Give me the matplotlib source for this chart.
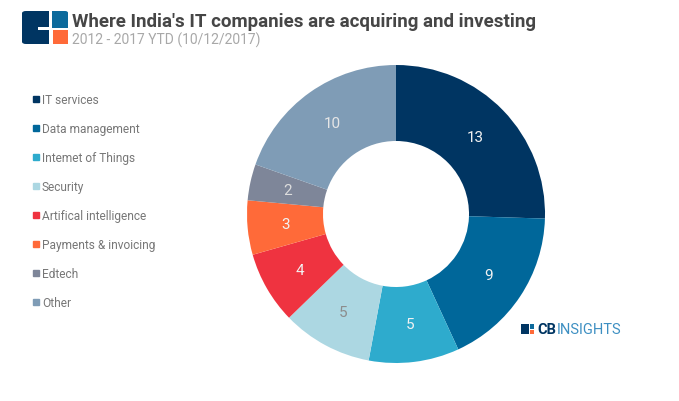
import matplotlib.pyplot as plt
from matplotlib.patches import FancyBboxPatch, Rectangle
import numpy as np

plt.rcParams['font.family'] = ['Roboto', 'DejaVu Sans']

# 数据
categories = ['IT services', 'Data management', 'Internet of Things', 'Security',
              'Artifical intelligence', 'Payments & invoicing', 'Edtech', 'Other']
legend_labels = ['IT services', 'Data management', 'Intemet of Things', 'Security',
                 'Artifical intelligence', 'Payments & invoicing', 'Edtech', 'Other']
values = [13, 9, 5, 5, 4, 3, 2, 10]
colors = ['#003562', '#00679a', '#2eabcd', '#acd7e2', '#ef3340', '#ff6a39', '#7e8699', '#7f9cb6']
label_colors = ['#f2f2f2', '#f2f2f2', '#f2f2f2', '#8c8c8c', '#f2f2f2', '#f2f2f2', '#dddddd', '#e6e6e6']

title = "Where India's IT companies are acquiring and investing"
subtitle = "2012 - 2017 YTD (10/12/2017)"

W, H = 679, 402
fig = plt.figure(figsize=(W / 100, H / 100), dpi=100)
fig.patch.set_facecolor('white')

# 环形图
cx, cy, r = 396, 215, 149
ax = fig.add_axes([(cx - r) / W, (H - cy - r) / H, 2 * r / W, 2 * r / H])
wedges, _ = ax.pie(values, colors=colors, startangle=90, counterclock=False,
                   radius=1, wedgeprops=dict(width=0.51, linewidth=0))
ax.set_xlim(-1, 1)
ax.set_ylim(-1, 1)
ax.set_aspect('equal')
ax.axis('off')

total = sum(values)
start = 90
for v, c in zip(values, label_colors):
    ang = np.deg2rad(start - v / total * 360 / 2)
    ax.text(0.745 * np.cos(ang), 0.745 * np.sin(ang), str(v), ha='center', va='center',
            color=c, fontsize=11, fontweight='normal')
    start -= v / total * 360

# 图例
for i, (lab, col) in enumerate(zip(legend_labels, colors)):
    y = 100 + i * 29
    fig.patches.append(Rectangle((33 / W, 1 - (y + 3) / H), 6 / W, 6 / H,
                                 transform=fig.transFigure, color=col))
    fig.text(42 / W, 1 - (y + 0.5) / H, lab, fontsize=8.6, color='#777777', va='center', ha='left')

# 标题和副标题
fig.text(72 / W, 1 - 22 / H, title, fontsize=13.5, fontweight='bold', color='#464646',
         va='center', ha='left')
fig.text(72 / W, 1 - 40 / H, subtitle, fontsize=10, color='#a8a8a8', va='center', ha='left')


def px_rect(x0, y0, x1, y1, col, rad=0):
    if rad:
        p = FancyBboxPatch((x0 / W, 1 - y1 / H), (x1 - x0) / W, (y1 - y0) / H,
                           boxstyle='round,pad=0,rounding_size=%f' % (rad / W),
                           transform=fig.transFigure, color=col, lw=0)
    else:
        p = Rectangle((x0 / W, 1 - y1 / H), (x1 - x0) / W, (y1 - y0) / H,
                      transform=fig.transFigure, color=col, lw=0)
    fig.patches.append(p)


# 左上角标志
px_rect(22, 12, 49, 45, '#003562', rad=4)
px_rect(40, 12, 49, 45, '#003562')
px_rect(38, 27.5, 49, 31, 'white')
px_rect(52, 12, 68, 28.5, '#0c6a9c', rad=3)
px_rect(52, 12, 60, 28.5, '#0c6a9c')
px_rect(52, 20, 68, 28.5, '#0c6a9c')
px_rect(53, 31, 68, 45, '#ff6a39')

# 右下角 CB INSIGHTS 标志
lx, ly = 521, 330
px_rect(lx, ly - 5, lx + 8, ly + 5, '#003562')
px_rect(lx + 9, ly - 5, lx + 13, ly - 0.5, '#0c6a9c')
px_rect(lx + 9, ly + 0.5, lx + 13, ly + 5, '#ff6a39')
t1 = fig.text((lx + 16) / W, 1 - ly / H, 'CB', fontsize=10.5, fontweight='bold',
              color='#003562', va='center', ha='left')
fig.canvas.draw()
bb = t1.get_window_extent()
fig.text((bb.x1 + 0.5) / W, 1 - ly / H, 'INSIGHTS', fontsize=10.5, color='#3d8fc2',
         va='center', ha='left')

fig.savefig('out.png', dpi=100)
